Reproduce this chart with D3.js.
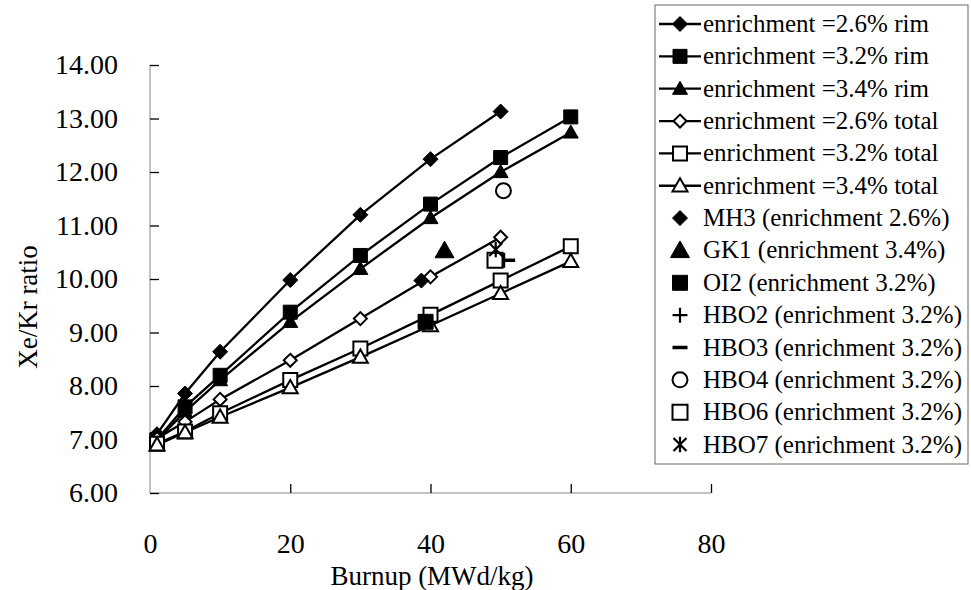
<!DOCTYPE html>
<html>
<head>
<meta charset="utf-8">
<script src="https://cdn.jsdelivr.net/npm/d3@7/dist/d3.min.js"></script>
<style>
  html, body { margin: 0; padding: 0; background: #fff; }
  svg { display: block; }
  text { font-family: "Liberation Serif", "Times New Roman", serif; fill: #000; }
</style>
</head>
<body>
<svg id="chart" width="971" height="590"></svg>
<script>
// ---- data ----
const burnup = [1, 5, 10, 20, 30, 40, 50, 60];
const rim26   = [7.10, 7.86, 8.64, 9.98, 11.20, 12.24, 13.13];
const rim32   = [7.00, 7.61, 8.20, 9.38, 10.44, 11.40, 12.27, 13.03];
const rim34   = [6.98, 7.52, 8.11, 9.20, 10.19, 11.14, 12.00, 12.74];
const total26 = [7.02, 7.33, 7.75, 8.48, 9.26, 10.04, 10.78];
const total32 = [6.92, 7.15, 7.49, 8.11, 8.70, 9.33, 9.97, 10.61];
const total34 = [6.90, 7.13, 7.42, 7.97, 8.54, 9.13, 9.73, 10.33];

const expNames = ["MH3 (enrichment 2.6%)", "GK1 (enrichment 3.4%)", "OI2 (enrichment 3.2%)",
  "HBO2 (enrichment 3.2%)", "HBO3 (enrichment 3.2%)", "HBO4 (enrichment 3.2%)",
  "HBO6 (enrichment 3.2%)", "HBO7 (enrichment 3.2%)"];
const expBurnup = [38.7, 42.0, 39.3, 50.5, 51.0, 50.4, 49.2, 49.3];
const expRatio  = [9.97, 10.53, 9.20, 10.35, 10.35, 11.65, 10.35, 10.55];

const seriesNames = ["enrichment =2.6% rim", "enrichment =3.2% rim", "enrichment =3.4% rim",
  "enrichment =2.6% total", "enrichment =3.2% total", "enrichment =3.4% total"];

const xTicks = [0, 20, 40, 60, 80];
const yTicks = [6, 7, 8, 9, 10, 11, 12, 13, 14];

// ---- marker shapes ----
const shapes = {
  diamond: r => `M0,${-r}L${r},0L0,${r}L${-r},0Z`,
  square: r => `M${-r},${-r}H${r}V${r}H${-r}Z`,
  triangle: r => `M0,${-r}L${r},${r*0.75}L${-r},${r*0.75}Z`,
  circle: r => `M${r},0A${r},${r} 0 1,1 ${-r},0A${r},${r} 0 1,1 ${r},0Z`,
  plus: r => `M${-r},0H${r}M0,${-r}V${r}`,
  dash: r => `M${-r},0H${r}`,
  star: r => `M${-r},${-r}L${r},${r}M${-r},${r}L${r},${-r}M0,${-r*1.2}V${r*1.2}`
};

const lineSeries = [
  { name: seriesNames[0], vals: rim26,   shape: "diamond",  r: 7.5, fill: true },
  { name: seriesNames[1], vals: rim32,   shape: "square",   r: 7, fill: true },
  { name: seriesNames[2], vals: rim34,   shape: "triangle", r: 7.5, fill: true },
  { name: seriesNames[3], vals: total26, shape: "diamond",  r: 6.5, fill: false },
  { name: seriesNames[4], vals: total32, shape: "square",   r: 7, fill: false },
  { name: seriesNames[5], vals: total34, shape: "triangle", r: 7.5, fill: false }
];
const expStyle = [
  { shape: "diamond", r: 7.5, fill: true },
  { shape: "triangle", r: 9.5, fill: true },
  { shape: "square", r: 7.5, fill: true },
  { shape: "plus", r: 7.5, stroke: 2.2 },
  { shape: "dash", r: 7.5, stroke: 3.5 },
  { shape: "circle", r: 7.5, fill: false },
  { shape: "square", r: 7.5, fill: false },
  { shape: "star", r: 6.5, stroke: 2.2 }
];

// ---- layout ----
const svg = d3.select("#chart");
const x = d3.scaleLinear().domain([0, 80]).range([150, 711]);
const y = d3.scaleLinear().domain([6, 14]).range([493, 65]);
const tickFont = "28px", titleFont = "27px", legendFont = "25px";

// axis lines (light)
svg.append("line").attr("x1", x(0)).attr("x2", x(0)).attr("y1", y(14)).attr("y2", y(6))
  .attr("stroke", "#888").attr("stroke-width", 1);
svg.append("line").attr("x1", x(0)).attr("x2", x(80)).attr("y1", y(6)).attr("y2", y(6))
  .attr("stroke", "#888").attr("stroke-width", 1);

// y axis
const yAxis = d3.axisLeft(y).tickValues(yTicks).tickFormat(d3.format(".2f")).tickSize(-9).tickPadding(32);
const gy = svg.append("g").attr("transform", `translate(${x(0)},0)`).call(yAxis);
gy.select(".domain").remove();
gy.selectAll(".tick line").attr("stroke", "#000").attr("stroke-width", 1.3);
gy.selectAll(".tick text").style("font-size", tickFont).style("font-family", "Liberation Serif, Times New Roman, serif");

// x axis
const xAxis = d3.axisBottom(x).tickValues(xTicks).tickFormat(d3.format("d")).tickSize(-9).tickPadding(40);
const gx = svg.append("g").attr("transform", `translate(0,${y(6)})`).call(xAxis);
gx.select(".domain").remove();
gx.selectAll(".tick line").attr("stroke", "#000").attr("stroke-width", 1.3)
  .attr("display", d => d === 0 ? "none" : null);
gx.selectAll(".tick text").style("font-size", tickFont).style("font-family", "Liberation Serif, Times New Roman, serif");

// axis titles
svg.append("text").attr("x", 432).attr("y", 585).attr("text-anchor", "middle")
  .style("font-size", titleFont).text("Burnup (MWd/kg)");
svg.append("text").attr("transform", "translate(37,307) rotate(-90)").attr("text-anchor", "middle")
  .style("font-size", titleFont).text("Xe/Kr ratio");

// ---- lines ----
const line = d3.line().x(d => x(d[0])).y(d => y(d[1]));
const gLines = svg.append("g");
lineSeries.forEach(s => {
  const pts = s.vals.map((v, i) => [burnup[i], v]);
  gLines.append("path").attr("d", line(pts)).attr("fill", "none")
    .attr("stroke", "#000").attr("stroke-width", 2.3);
});
lineSeries.forEach(s => {
  const pts = s.vals.map((v, i) => [burnup[i], v]);
  gLines.selectAll(null).data(pts).enter().append("path")
    .attr("transform", d => `translate(${x(d[0])},${y(d[1])})`)
    .attr("d", shapes[s.shape](s.r))
    .attr("fill", s.fill ? "#000" : "#fff").attr("stroke", "#000").attr("stroke-width", s.fill ? 1 : 2);
});

// ---- experimental points ----
const gExp = svg.append("g");
expBurnup.forEach((b, i) => {
  const st = expStyle[i];
  const isLine = st.shape === "plus" || st.shape === "dash" || st.shape === "star";
  gExp.append("path")
    .attr("transform", `translate(${x(b)},${y(expRatio[i])})`)
    .attr("d", shapes[st.shape](st.r))
    .attr("fill", isLine ? "none" : (st.fill ? "#000" : "#fff"))
    .attr("stroke", "#000")
    .attr("stroke-width", isLine ? st.stroke : (st.fill ? 1 : 2));
});

// ---- legend ----
const lg = svg.append("g");
const lgX = 655, lgY = 5, lgW = 313, rowH = 32.35;
lg.append("rect").attr("x", lgX).attr("y", lgY).attr("width", lgW).attr("height", 459)
  .attr("fill", "#fff").attr("stroke", "#666").attr("stroke-width", 1);
const rowY = i => 24 + i * rowH;
const textX = 703, markX = 680;
lineSeries.forEach((s, i) => {
  const cy = rowY(i);
  lg.append("line").attr("x1", 659).attr("x2", 701).attr("y1", cy).attr("y2", cy)
    .attr("stroke", "#000").attr("stroke-width", 2.3);
  lg.append("path").attr("transform", `translate(${markX},${cy})`).attr("d", shapes[s.shape](s.r))
    .attr("fill", s.fill ? "#000" : "#fff").attr("stroke", "#000").attr("stroke-width", s.fill ? 1 : 2);
  lg.append("text").attr("x", textX).attr("y", cy + 8).style("font-size", legendFont).text(s.name);
});
expNames.forEach((n, j) => {
  const i = j + lineSeries.length;
  const cy = rowY(i);
  const st = expStyle[j];
  const isLine = st.shape === "plus" || st.shape === "dash" || st.shape === "star";
  lg.append("path").attr("transform", `translate(${markX},${cy})`).attr("d", shapes[st.shape](st.r))
    .attr("fill", isLine ? "none" : (st.fill ? "#000" : "#fff"))
    .attr("stroke", "#000").attr("stroke-width", isLine ? st.stroke : (st.fill ? 1 : 2));
  lg.append("text").attr("x", textX).attr("y", cy + 8).style("font-size", legendFont).text(n);
});
</script>
</body>
</html>
